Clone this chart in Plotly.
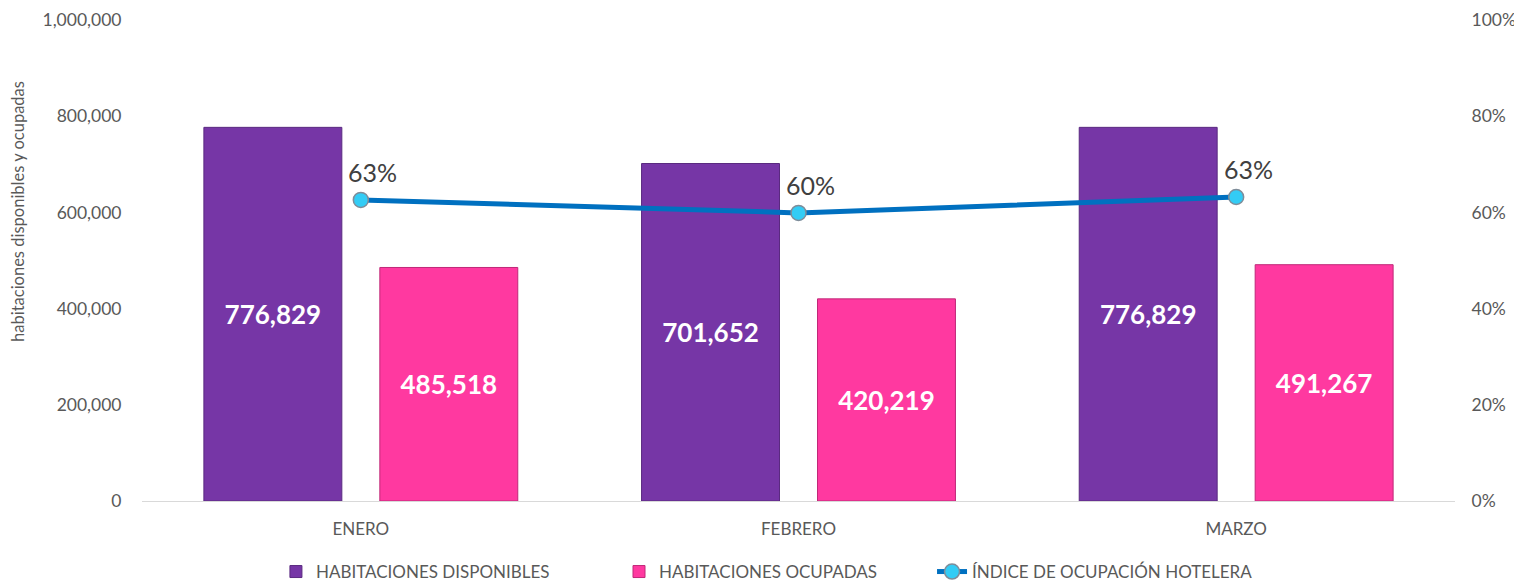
import plotly.graph_objects as go

meses = ["ENERO", "FEBRERO", "MARZO"]
disponibles = [776829, 701652, 776829]
ocupadas = [485518, 420219, 491267]
indice = [0.626, 0.599, 0.632]
etiquetas_indice = ["63%", "60%", "63%"]

font_family = "Lato, 'Open Sans', sans-serif"
gray = "#595959"

fig = go.Figure()
fig.add_trace(go.Bar(
    x=meses, y=disponibles, name="HABITACIONES DISPONIBLES", legend="legend",
    marker=dict(color="#7636A6", line=dict(color="#5A2A80", width=1)),
    text=[f"{v:,}" for v in disponibles], textposition="inside",
    insidetextanchor="middle",
    textfont=dict(color="white", size=26, family=font_family, weight="bold"),
))
fig.add_trace(go.Bar(
    x=meses, y=ocupadas, name="HABITACIONES OCUPADAS", legend="legend2",
    marker=dict(color="#FF39A0", line=dict(color="#C02878", width=1)),
    text=[f"{v:,}" for v in ocupadas], textposition="inside",
    insidetextanchor="middle",
    textfont=dict(color="white", size=26, family=font_family, weight="bold"),
))
fig.add_trace(go.Scatter(
    x=meses, y=indice, name="ÍNDICE DE OCUPACIÓN HOTELERA", yaxis="y2", legend="legend3",
    mode="lines+markers",
    line=dict(color="#0070C0", width=5),
    marker=dict(color="#33CCF5", size=15, line=dict(color="#7F8C99", width=1.5)),
))

for m, v, t in zip(meses, indice, etiquetas_indice):
    fig.add_annotation(x=m, y=v, yref="y2", text=t, showarrow=False,
                       xshift=12, yshift=28,
                       font=dict(color="#404040", size=25, family=font_family))

fig.add_annotation(text="habitaciones disponibles y ocupadas", textangle=-90,
                   xref="paper", yref="paper", x=-0.0944, y=0.601,
                   xanchor="center", yanchor="middle", showarrow=False,
                   font=dict(size=16.5, color=gray, family=font_family))

leg_common = dict(orientation="h", yanchor="middle", y=-0.1476, xanchor="left",
                  font=dict(size=17, color=gray), bgcolor="rgba(0,0,0,0)")

fig.update_layout(
    width=1522, height=586,
    margin=dict(l=134, r=75, t=12, b=93, autoexpand=False),
    paper_bgcolor="white", plot_bgcolor="white",
    font=dict(family=font_family, color=gray, size=17),
    barmode="group", bargap=0.196, bargroupgap=0.216,
    showlegend=True,
    legend=dict(x=0.102, **leg_common),
    legend2=dict(x=0.3633, **leg_common),
    legend3=dict(x=0.6017, **leg_common),
    xaxis=dict(showgrid=False, showline=True, linecolor="#D9D9D9", linewidth=1,
               ticks="outside", ticklen=13, tickcolor="rgba(0,0,0,0)",
               tickfont=dict(size=17, color=gray)),
    yaxis=dict(range=[0, 1000000], dtick=200000, tickformat=",d", showgrid=False,
               zeroline=False, showline=False,
               ticks="outside", ticklen=16, tickcolor="rgba(0,0,0,0)",
               tickfont=dict(size=17.5, color=gray)),
    yaxis2=dict(range=[0, 1], dtick=0.2, tickformat=".0%", overlaying="y", side="right",
                showgrid=False, zeroline=False, showline=False,
                ticks="outside", ticklen=12, tickcolor="rgba(0,0,0,0)",
                tickfont=dict(size=17.5, color=gray)),
    uniformtext=dict(minsize=10, mode="show"),
)

fig.write_html("out.html")
